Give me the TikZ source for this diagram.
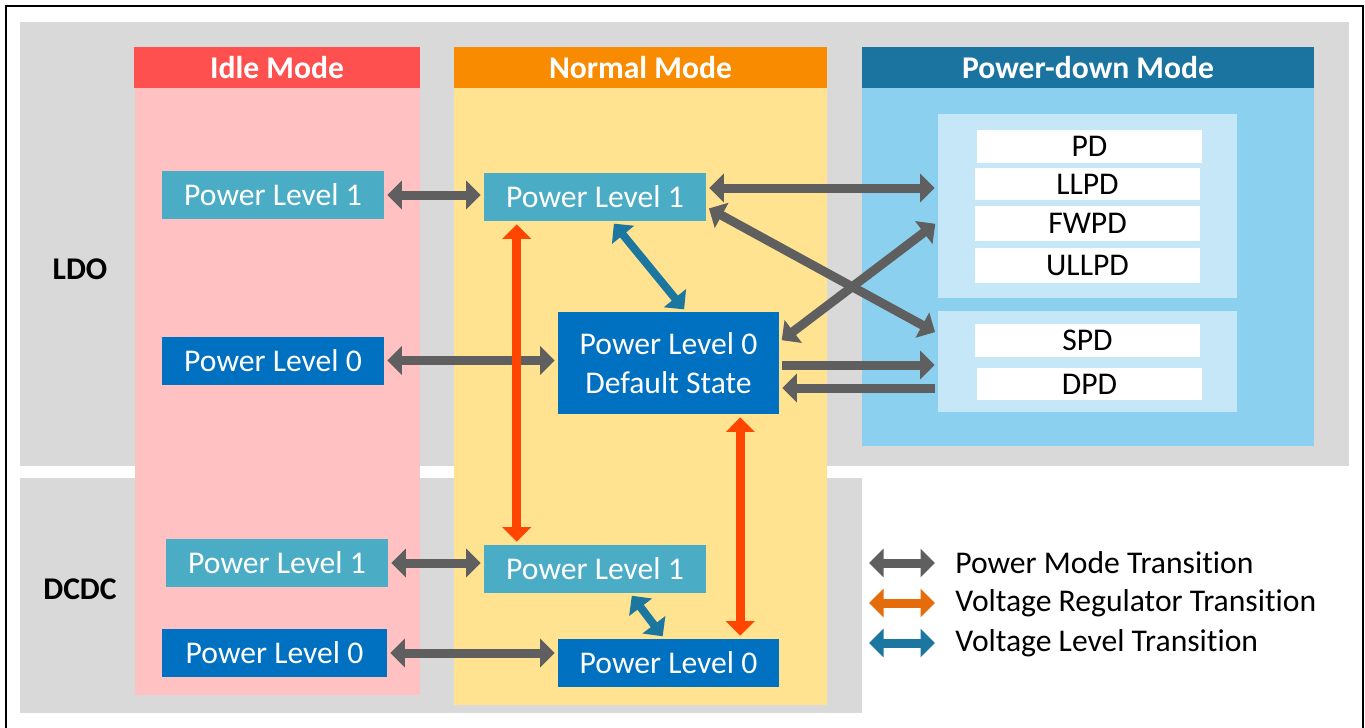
\documentclass[tikz,border=0pt]{standalone}
\usepackage{fontspec}
\setmainfont[Ligatures=NoCommon]{Carlito}
\usetikzlibrary{arrows.meta}
\definecolor{panelgray}{HTML}{D9D9D9}
\definecolor{idlehead}{HTML}{FF5050}
\definecolor{idlebody}{HTML}{FFC1C1}
\definecolor{normhead}{HTML}{F98B00}
\definecolor{normbody}{HTML}{FFE391}
\definecolor{pdhead}{HTML}{1B74A0}
\definecolor{pdbody}{HTML}{8BD0EE}
\definecolor{pdinner}{HTML}{C6E7F7}
\definecolor{lvllight}{HTML}{4BACC6}
\definecolor{lvldark}{HTML}{0070C0}
\definecolor{armgray}{HTML}{5F5F5F}
\definecolor{armred}{HTML}{FF4500}
\definecolor{armorange}{HTML}{E46C0A}
\definecolor{armblue}{HTML}{1B76A0}

\begin{document}
\begin{tikzpicture}[x=0.02cm,y=-0.02cm,
    >={Triangle[width=0.56cm,length=0.29cm]},
    every node/.style={font=\fontsize{18}{20}\selectfont, inner sep=0pt},
    head/.style={text=white, font=\fontsize{18}{20}\selectfont\bfseries, minimum height=0.82cm},
    lvlA/.style={fill=lvllight, text=white, minimum width=4.44cm, minimum height=0.96cm},
    lvlB/.style={fill=lvldark, text=white, minimum width=4.44cm, minimum height=0.96cm},
    pdbox/.style={fill=white, minimum width=4.5cm},
    pm/.style={draw=armgray, line width=0.18cm, shorten >=0.06cm, shorten <=0.06cm},
    vr/.style={pm, draw=armred},
    vl/.style={pm, draw=armblue, line width=0.16cm}]
     \useasboundingbox (0,0) rectangle (1365,727);
     % panels and columns
     \fill[panelgray] (20,22) rectangle (1349,466);
     \fill[panelgray] (20,478) rectangle (862,713);
     \fill[idlebody] (135,88) rectangle (420,695);
     \fill[normbody] (454,88) rectangle (827,705);
     \fill[pdbody] (862,88) rectangle (1314,446);
     \draw[line width=0.04cm] (6,740) -- (6,6) -- (1363,6) -- (1363,740);
     \node[head, fill=idlehead, minimum width=5.72cm] (hIdle) at (277,67.5) {Idle Mode};
     \node[head, fill=normhead, minimum width=7.46cm] (hNorm) at (640.5,67.5) {Normal Mode};
     \node[head, fill=pdhead, minimum width=9.04cm] (hPd) at (1088,67.5) {Power-down Mode};
     \node[font=\fontsize{18}{20}\selectfont\bfseries] (ldo) at (80,269) {LDO};
     \node[font=\fontsize{18}{20}\selectfont\bfseries] (dcdc) at (80,589) {DCDC};
     % power-down states
     \node[fill=pdinner, minimum width=5.98cm, minimum height=3.68cm] (pdA) at (1087.5,206) {};
     \node[fill=pdinner, minimum width=5.98cm, minimum height=2.02cm] (pdB) at (1087.5,361.5) {};
     \node[pdbox, minimum height=0.66cm] (pd) at (1089.5,146.5) {PD};
     \node[pdbox, minimum height=0.64cm] (llpd) at (1087.5,184) {LLPD};
     \node[pdbox, minimum height=0.7cm] (fwpd) at (1087.5,223.5) {FWPD};
     \node[pdbox, minimum height=0.7cm] (ullpd) at (1087.5,265.5) {ULLPD};
     \node[pdbox, minimum height=0.66cm] (spd) at (1087.5,340.5) {SPD};
     \node[pdbox, minimum height=0.64cm] (dpd) at (1089.5,384) {DPD};
     % power levels
     \node[lvlA] (iL1) at (273,195) {Power Level 1};
     \node[lvlB] (iL0) at (273,360.5) {Power Level 0};
     \node[lvlA] (nL1) at (595,197) {Power Level 1};
     \node[lvlB, minimum width=4.42cm, minimum height=2.04cm, align=center,
           font=\fontsize{18}{22}\selectfont] (dflt) at (668.5,363) {Power Level 0\\Default State};
     \node[lvlA] (iD1) at (277,563) {Power Level 1};
     \node[lvlB, minimum width=4.5cm] (iD0) at (274.5,653) {Power Level 0};
     \node[lvlA] (nD1) at (595,569) {Power Level 1};
     \node[lvlB, minimum width=4.42cm] (nD0) at (668.5,663) {Power Level 0};
     % transitions
     \draw[pm,<->] (iL1.east) -- (iL1.east -| nL1.west);
     \draw[pm,<->] ([yshift=0.18cm]nL1.east) -- ([yshift=0.18cm]nL1.east -| pdA.west);
     \draw[pm,<->] ([yshift=-0.2cm]nL1.east) -- ([yshift=0.56cm]pdB.west);
     \draw[pm,<->] ([yshift=0.42cm]dflt.east) -- ([yshift=-0.32cm]pdA.west);
     \draw[pm,->] ([yshift=-0.04cm]dflt.east) -- ([yshift=-0.04cm]dflt.east -| pdB.west);
     \draw[pm,<-] ([yshift=-0.5cm]dflt.east) -- ([yshift=-0.5cm]dflt.east -| pdB.west);
     \draw[pm,<->] (iL0.east) -- (iL0.east -| dflt.west);
     \draw[pm,<->] (iD1.east) -- (iD1.east -| nD1.west);
     \draw[pm,<->] (iD0.east) -- (iD0.east -| nD0.west);
     \draw[vr,<->] ([xshift=0.66cm]nL1.south west) -- ([xshift=0.66cm]nD1.north west);
     \draw[vr,<->] ([xshift=-0.78cm]dflt.south east) -- ([xshift=-0.78cm]nD0.north east);
     \draw[vl,<->] ([xshift=0.34cm]nL1.south) -- ([xshift=0.35cm]dflt.north);
     \draw[vl,<->] ([xshift=0.7cm]nD1.south) -- ([xshift=-0.08cm]nD0.north);
     % legend
     \coordinate (k1a) at (866,563); \coordinate (k1b) at (938,563);
     \coordinate (k2a) at (866,603); \coordinate (k2b) at (938,603);
     \coordinate (k3a) at (866,643); \coordinate (k3b) at (938,643);
     \draw[pm,<->] (k1a) -- (k1b);
     \draw[pm,<->,draw=armorange] (k2a) -- (k2b);
     \draw[pm,<->,draw=armblue] (k3a) -- (k3b);
     \node[anchor=west] (k1t) at (955,563) {Power Mode Transition};
     \node[anchor=west] (k2t) at (955,603) {Voltage Regulator Transition};
     \node[anchor=west] (k3t) at (955,643) {Voltage Level Transition};
    \end{tikzpicture}
\end{document}
